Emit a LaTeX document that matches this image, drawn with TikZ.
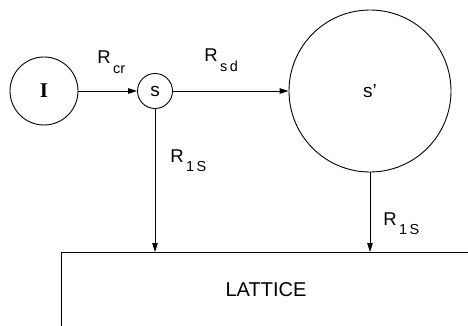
\documentclass[tikz,border=0pt]{standalone}
\usepackage{fontspec}
\setmainfont{Liberation Sans}
\newfontfamily\romfont{Liberation Serif}
\usetikzlibrary{arrows.meta}
\newcommand{\Rsub}[1]{R\raisebox{-9.5pt}{\fontsize{14.5}{14.5}\selectfont\,#1}}
\begin{document}
\begin{tikzpicture}[x=1pt,y=-1pt,
  line width=0.9pt,
  circ/.style={draw,circle,inner sep=0pt},
  flow/.style={-{Triangle[length=9pt,width=5.5pt]}},
  lbl/.style={anchor=base west,inner sep=0pt,font=\fontsize{18.5}{18.5}\selectfont}]
\useasboundingbox (0,0) rectangle (468,326);
\node[circ,minimum size=68pt] (I) at (44,91) {\romfont\bfseries\fontsize{21}{21}\selectfont I};
\node[circ,minimum size=35pt] (s) at (155,91) {\fontsize{19}{19}\selectfont s};
\node[circ,minimum size=162pt] (sp) at (370,91) {\fontsize{19}{19}\selectfont s'};
\coordinate (lt) at (61,252);
\coordinate (rt) at (468,252);
\coordinate (lb) at (61,326);
\draw (rt) -- (lt) -- (lb);
\node[font=\fontsize{20}{20}\selectfont] (lat) at (266,290) {LATTICE};
\draw[flow] (I) -- (s);
\draw[flow] (s) -- (sp);
\draw[flow] (s.south) -- (s.south |- lt);
\draw[flow] (sp.south) -- (sp.south |- lt);
\node[lbl] (rcr) at (97,64) {\Rsub{cr}};
\node[lbl] (rsd) at (204,62) {\Rsub{s\,d}};
\node[lbl] (r1a) at (170,162) {\Rsub{1\,S}};
\node[lbl] (r1b) at (383,225) {\Rsub{1\,S}};
\end{tikzpicture}
\end{document}
